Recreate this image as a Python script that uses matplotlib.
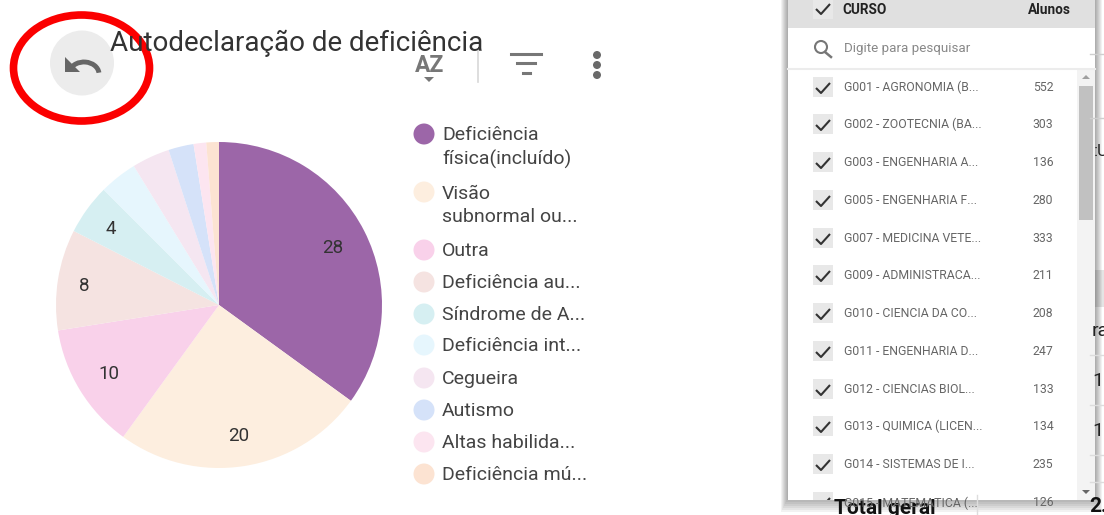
import matplotlib
matplotlib.use("Agg")
import matplotlib.pyplot as plt
from matplotlib.patches import Rectangle, Ellipse, Polygon, Arc

plt.rcParams['font.family'] = ['Roboto', 'DejaVu Sans']

title = "Autodeclaração de deficiência"
categories = ["Deficiência física(incluído)", "Visão subnormal ou...", "Outra", "Deficiência au...",
              "Síndrome de A...", "Deficiência int...", "Cegueira", "Autismo", "Altas habilida...",
              "Deficiência mú..."]
legend_labels = ["Deficiência\nfísica(incluído)", "Visão\nsubnormal ou...", "Outra", "Deficiência au...",
                 "Síndrome de A...", "Deficiência int...", "Cegueira", "Autismo", "Altas habilida...",
                 "Deficiência mú..."]
values = [28, 20, 10, 8, 4, 3, 3, 2, 1, 1]
colors = ["#9c66a8", "#fdeedf", "#f9d1ea", "#f5e3e1", "#d6eff2", "#e6f6fd", "#f5e6f1", "#d5e2f9",
          "#fce5f0", "#fce3d2"]
legend_y = [134, 192, 250, 282, 314, 345, 378, 410, 442, 474]
courses = ["G001 - AGRONOMIA (B...", "G002 - ZOOTECNIA (BA...", "G003 - ENGENHARIA A...", "G005 - ENGENHARIA F...",
           "G007 - MEDICINA VETE...", "G009 - ADMINISTRACA...", "G010 - CIENCIA DA CO...", "G011 - ENGENHARIA D...",
           "G012 - CIENCIAS BIOL...", "G013 - QUIMICA (LICEN...", "G014 - SISTEMAS DE I..."]
students = [552, 303, 136, 280, 333, 211, 208, 247, 133, 134, 235]
row_y = [87, 124, 162, 200, 238, 275, 313, 351, 389, 426, 464]

W, H = 1104, 515
fig = plt.figure(figsize=(W / 100, H / 100), dpi=100, facecolor="white")
ui = fig.add_axes([0, 0, 1, 1], zorder=1)
ui.set_xlim(0, W); ui.set_ylim(H, 0); ui.axis("off")
TXT = "#444444"

# pie
cx, cy, r = 219, 305, 163
pa = fig.add_axes([(cx - r) / W, 1 - (cy + r) / H, 2 * r / W, 2 * r / H], zorder=2)
pa.pie(values, colors=colors, startangle=90, counterclock=False, radius=1,
       wedgeprops=dict(linewidth=0))
pa.set_xlim(-1, 1); pa.set_ylim(-1, 1)

overlay = fig.add_axes([0, 0, 1, 1], zorder=3)
overlay.set_xlim(0, W); overlay.set_ylim(H, 0); overlay.axis("off"); overlay.patch.set_alpha(0)

# pie value labels
for v, (x, y) in zip(values[:5], [(333, 248), (239, 436), (109, 374), (84, 286), (111, 229)]):
    overlay.text(x, y, str(v), ha="center", va="center", fontsize=13.5, color="#333333")

# background table fragments
for y in (54, 118):
    ui.plot([1090, W], [y, y], color="#cfcfcf", lw=1)
for y in (355, 405, 455, 482):
    ui.plot([1090, W], [y, y], color="#dddddd", lw=1)
ui.add_patch(Rectangle((1090, 270), 14, 37, color="#e4e4e4", lw=0))
ui.text(1094, 151, ":U", fontsize=12, color="#222222", va="center")
ui.text(1092, 331, "ra", fontsize=14, color="#222222", va="center")
ui.text(1092, 381, "1", fontsize=14, color="#222222", va="center")
ui.text(1092, 431, "1", fontsize=14, color="#222222", va="center")
ui.text(1089, 507, "2.", fontsize=15, color="#111111", va="center", fontweight="bold")
ui.plot([977, 977], [495, H], color="#dddddd", lw=1)
ui.text(834, 509, "Total geral", fontsize=15, color="#111111", va="center", fontweight="bold")

# panel shadow, heavier below the panel
for i in range(8):
    ui.add_patch(Rectangle((788 - 7 + i, 0), 307 + 2 * (7 - i), 500 + 2 * (8 - i) - 4,
                           facecolor="black", alpha=0.05, lw=0))
panel = Rectangle((788, 0), 307, 500, facecolor="white", lw=0)
ui.add_patch(panel)
ui.add_patch(Rectangle((788, 0), 307, 28, facecolor="#e0e0e0", lw=0))
ui.plot([788, 1095], [68.5, 68.5], color="#ececec", lw=1.5)
ui.add_patch(Rectangle((813, 0), 20, 19, facecolor="#e8e8e8", lw=0))
ui.text(842, 10, "CURSO", fontsize=9.8, fontweight="bold", color="#222222", va="center")
ui.text(1071, 10, "Alunos", fontsize=9.8, fontweight="bold", color="#222222", va="center", ha="right")

def check(ax, x, y, clip=None):
    ln, = ax.plot([x - 7, x - 2, x + 7], [y, y + 5, y - 5], color="#333333", lw=1.5, solid_capstyle="butt")
    if clip is not None:
        ln.set_clip_path(clip)

check(ui, 823, 9)
ui.add_patch(Ellipse((821, 47), 12, 12, fill=False, ec="#777777", lw=1.5))
ui.plot([825, 831], [52, 57], color="#777777", lw=1.8)
ui.text(844, 48.5, "Digite para pesquisar", fontsize=9.6, color="#888888", va="center")

for name, n, y in zip(courses, students, row_y):
    ui.add_patch(Rectangle((813, y - 10), 20, 20, facecolor="#e8e8e8", lw=0))
    check(ui, 823, y + 1)
    ui.text(844, y + 0.5, name, fontsize=8.8, color="#666666", va="center")
    ui.text(1043, y + 0.5, str(n), fontsize=8.8, color="#666666", va="center", ha="center")

clip_rect = Rectangle((788, 0), 307, 500, transform=ui.transData)
ui.add_patch(Rectangle((813, 492), 20, 8, facecolor="#e8e8e8", lw=0))
check(ui, 823, 503, clip=clip_rect)
ui.text(844, 503, "G015 - MATEMATICA (...", fontsize=8.8, color="#666666", va="center",
        clip_on=True, clip_path=clip_rect)
ui.text(1043, 503, "126", fontsize=8.8, color="#666666", va="center", ha="center",
        clip_on=True, clip_path=clip_rect)

# scrollbar
ui.add_patch(Rectangle((1077, 69), 18, 431, facecolor="#f3f3f3", lw=0))
ui.add_patch(Rectangle((1079, 86), 14, 134, facecolor="#c1c1c1", lw=0))
ui.add_patch(Polygon([(1082, 79), (1090, 79), (1086, 75)], color="#a0a0a0", lw=0))
ui.add_patch(Polygon([(1082, 490), (1090, 490), (1086, 494)], color="#666666", lw=0))

# title
overlay.text(110, 43.5, title, fontsize=20, color="#333333", va="center")

# undo button
ui.add_patch(Ellipse((82, 63), 64, 65, facecolor="#ececec", lw=0))
ui.add_patch(Polygon([(65, 57), (65, 72), (80, 72)], color="#666666", lw=0))
ui.add_patch(Arc((84, 74), 30, 24, theta1=195, theta2=355, color="#666666", lw=3.5))

# red circle
overlay.add_patch(Ellipse((81.5, 68), 136, 106, fill=False, ec="#fb0000", lw=5.5))

# toolbar icons
ui.text(430, 66, "AZ", fontsize=16.5, fontweight="bold", color="#777777", ha="center", va="center")
ui.add_patch(Polygon([(424, 77), (434, 77), (429, 82)], color="#777777", lw=0))
ui.plot([478, 478], [50, 82], color="#d8d8d8", lw=1.2)
ui.plot([511, 541], [53.5, 53.5], color="#777777", lw=2.2)
ui.plot([517, 535], [63, 63], color="#777777", lw=2.2)
ui.plot([523, 530], [72.5, 72.5], color="#777777", lw=2.2)
for y in (55, 65, 75):
    ui.add_patch(Ellipse((597, y), 8, 8, facecolor="#6a6a6a", lw=0))

# legend
for lab, col, y in zip(legend_labels, colors, legend_y):
    overlay.add_patch(Ellipse((424, y), 21, 21, facecolor=col, lw=0))
    overlay.text(442, y + 1 if "\n" not in lab else y + 13.5, lab, fontsize=14, color=TXT, va="center",
                 linespacing=1.42)

fig.savefig("out.png", dpi=100)
